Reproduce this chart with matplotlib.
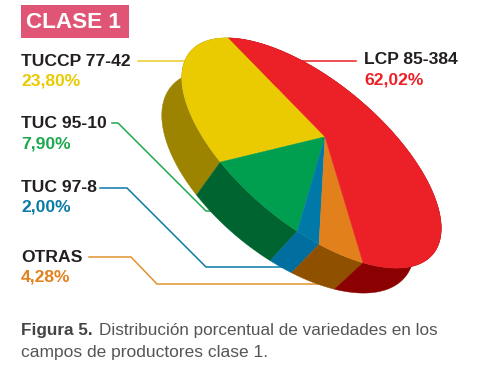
#!/usr/bin/env python3
"""Tilted 3D pie: variety shares in class 1 producer fields."""

import numpy as np
import matplotlib
matplotlib.use("Agg")
import matplotlib.pyplot as plt
from matplotlib.patches import Rectangle, Polygon

plt.rcParams['font.family'] = ['Liberation Sans', 'DejaVu Sans']

# pie order, counter-clockwise on screen from the top left edge
slices = ['TUCCP 77-42', 'TUC 95-10', 'TUC 97-8', 'OTRAS', 'LCP 85-384']
shares = [23.80, 7.90, 2.00, 4.28, 62.02]
share_labels = ['23,80%', '7,90%', '2,00%', '4,28%', '62,02%']
top_colors = ['#eaca00', '#009e4f', '#0079a8', '#e2801c', '#ec2027']
side_colors = ['#9c8400', '#006430', '#006fa0', '#8f5000', '#8b0000']
text_colors = ['#eaca00', '#1fa84f', '#0a7aa8', '#e2801c', '#ec2027']
label_pos = [(21, 61), (21, 124), (21, 187), (21, 257), (364, 60)]

leaders = [
    [(138, 61), (190, 61)],
    [(112, 123), (118, 123), (206, 211), (225, 211)],
    [(100, 188), (127, 188), (206, 267), (290, 267)],
    [(89, 257), (131, 257), (157, 284), (330, 284)],
    [(300, 61), (356, 61)],
]
leader_colors = ['#eccb2a', '#1fa84f', '#0a7aa8', '#e2922f', '#ec2027']

# ellipse of the top face and the perspective of the pie
CENTER = np.array([311.5, 153.0])
SEMI_A, SEMI_B = 158.0, 71.5
AXIS_DEG = 39.8
PERSP = -0.295
START_DEG = 193.5
DEPTH = np.array([-23.4, 28.8])
DEPTH_K = 0.046  # bottom face is skewed a little against the top one


def project(theta_deg):
    """Map angles on the flat pie to pixels on the tilted ellipse."""
    t = np.radians(theta_deg)
    x, y = np.cos(t), np.sin(t)
    w = 1 + PERSP * y
    u1 = x * np.sqrt(1 - PERSP ** 2) / w
    u2 = (y + PERSP) / w
    a = np.radians(AXIS_DEG)
    e1 = np.array([np.cos(a), np.sin(a)])
    e2 = np.array([-np.sin(a), np.cos(a)])
    return CENTER + np.outer(u1 * SEMI_A, e1) + np.outer(u2 * SEMI_B, e2)


def project_center():
    a = np.radians(AXIS_DEG)
    e2 = np.array([-np.sin(a), np.cos(a)])
    return CENTER + PERSP * SEMI_B * e2


def lower(arc):
    """Bottom face points below the given top face points."""
    rel = arc - CENTER
    return arc + DEPTH - DEPTH_K * rel[:, ::-1]


fig = plt.figure(figsize=(4.82, 3.76), dpi=100)
ax = fig.add_axes([0, 0, 1, 1])
ax.set_xlim(0, 482)
ax.set_ylim(376, 0)
ax.axis('off')

for pts, color in zip(leaders, leader_colors):
    xs, ys = zip(*pts)
    ax.plot(xs, ys, color=color, lw=1.1, zorder=1, solid_joinstyle='miter')

edges = START_DEG - np.concatenate([[0], np.cumsum(shares)]) * 3.6
vertex = project_center()
for i in range(len(shares)):
    arc = project(np.linspace(edges[i], edges[i + 1], 200))
    side = np.vstack([arc, lower(arc)[::-1]])
    ax.add_patch(Polygon(side, closed=True, fc=side_colors[i], ec=side_colors[i], lw=0.3, zorder=2))
for i in range(len(shares)):
    arc = project(np.linspace(edges[i], edges[i + 1], 200))
    top = np.vstack([vertex, arc])
    ax.add_patch(Polygon(top, closed=True, fc=top_colors[i], ec=top_colors[i], lw=0.3, zorder=3))

ax.add_patch(Rectangle((21, 5), 108, 33, fc='#e05575', ec='none', zorder=2))
ax.text(26, 22, 'CLASE 1', color='white', fontsize=16.2, fontweight='bold', va='center', ha='left', zorder=4)

for name, pct, color, (x, y) in zip(slices, share_labels, text_colors, label_pos):
    ax.text(x, y, name, color='#231f20', fontsize=12.6, fontweight='bold', va='center', ha='left', zorder=5)
    ax.text(x, y + 20, pct, color=color, fontsize=12.6, fontweight='bold', va='center', ha='left', zorder=5)

cap = ax.text(21, 330, 'Figura 5.', color='#444444', fontsize=12.3, fontweight='bold', va='center', ha='left')
fig.canvas.draw()
end = cap.get_window_extent().x1
ax.text(end + 6, 330, 'Distribución porcentual de variedades en los', color='#555555',
        fontsize=12.3, va='center', ha='left')
ax.text(21, 352, 'campos de productores clase 1.', color='#555555', fontsize=12.5, va='center', ha='left')

fig.savefig('out.png', dpi=100)
